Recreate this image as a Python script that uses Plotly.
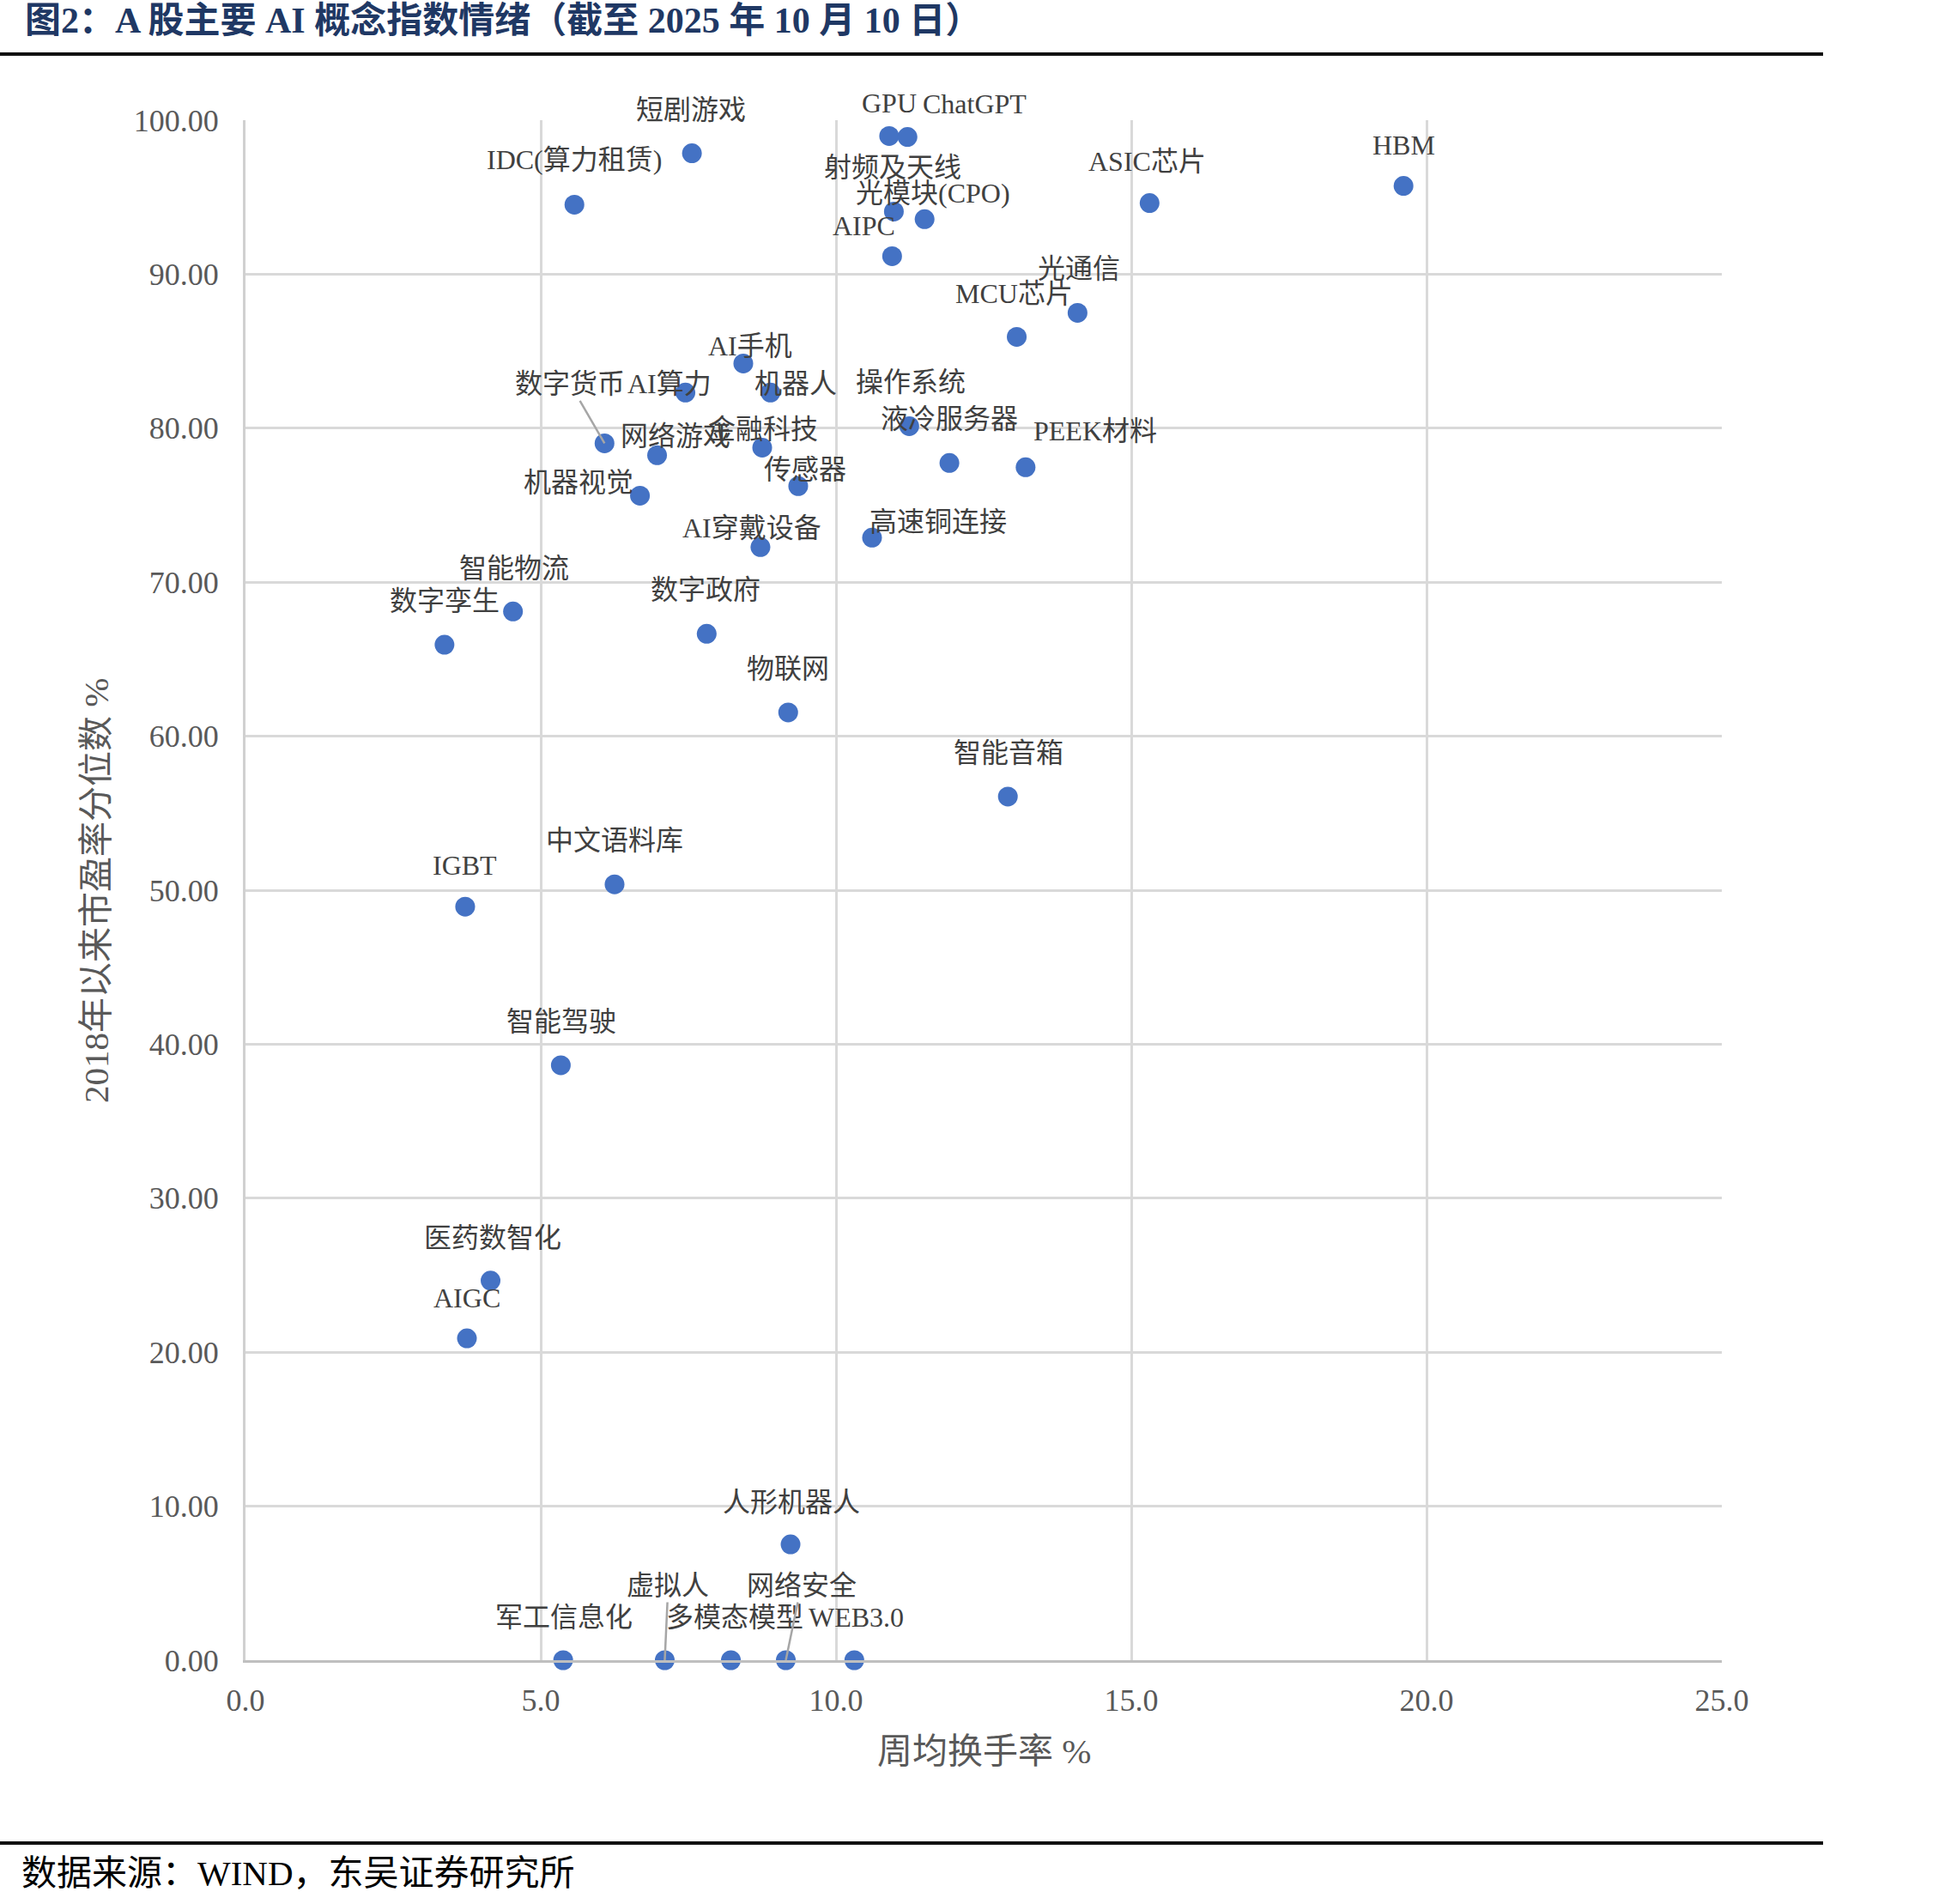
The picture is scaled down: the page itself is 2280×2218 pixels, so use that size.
import plotly.graph_objects as go

# ---------------- data ----------------
names = ["短剧游戏", "IDC(算力租赁)", "GPU", "ChatGPT", "射频及天线", "光模块(CPO)", "AIPC",
         "ASIC芯片", "HBM", "光通信", "MCU芯片", "AI手机", "AI算力", "数字货币", "机器人",
         "操作系统", "液冷服务器", "PEEK材料", "网络游戏", "金融科技", "传感器", "机器视觉",
         "AI穿戴设备", "高速铜连接", "智能物流", "数字孪生", "数字政府", "物联网", "智能音箱",
         "IGBT", "中文语料库", "智能驾驶", "医药数智化", "AIGC", "人形机器人", "军工信息化",
         "虚拟人", "多模态模型", "网络安全", "WEB3.0"]
turnover = [7.56, 5.57, 10.90, 11.21, 10.98, 11.50, 10.95,
            15.31, 19.61, 14.09, 13.06, 8.43, 7.45, 6.08, 8.89,
            11.24, 11.92, 13.21, 6.97, 8.75, 9.36, 6.68,
            8.72, 10.61, 4.53, 3.37, 7.81, 9.19, 12.91,
            3.72, 6.25, 5.34, 4.15, 3.75, 9.23, 5.38,
            7.10, 8.22, 9.15, 10.31]
pe_pct = [97.85, 94.51, 98.97, 98.91, 94.07, 93.57, 91.17,
          94.62, 95.73, 87.49, 85.93, 84.20, 82.31, 79.02, 82.31,
          80.13, 77.74, 77.46, 78.24, 78.74, 76.24, 75.62,
          72.28, 72.89, 68.10, 65.94, 66.65, 61.54, 56.08,
          48.93, 50.38, 38.63, 24.65, 20.90, 7.52, 0.0,
          0.0, 0.0, 0.0, 0.0]
x_ticks = [0, 5, 10, 15, 20, 25]
y_ticks = [0, 10, 20, 30, 40, 50, 60, 70, 80, 90, 100]

# label offsets (screen px, dy negative = up) and leader-line flags
label_dx = [-1, 0, 0, 78, -1, 10, -33,
            -3, 0, 2, -3, 8, -19, -40, 29,
            2, 0, 81, 21, 1, 8, -72,
            -10, 77, 1, 0, -1, 0, 1,
            0, 0, 1, 2, 0, 1, 1,
            4, 4, 18, 2]
label_dy = [-51, -52, -38, -39, -51, -30, -35,
            -49, -48, -51, -50, -20, -10, -69, -10,
            -51, -51, -42, -22, -21, -19, -15,
            -22, -18, -50, -51, -51, -51, -51,
            -48, -51, -51, -50, -47, -49, -50,
            -87, -50, -87, -50]
leader = {"数字货币", "虚拟人", "网络安全"}

LABEL_FONT = "Liberation Serif, 'Noto Sans CJK SC', serif"
BLUE = "#4472C4"

fig = go.Figure()
fig.add_trace(go.Scatter(
    x=turnover, y=pe_pct, mode="markers",
    marker=dict(size=23, color=BLUE, line=dict(width=0)),
    cliponaxis=False, hoverinfo="skip", showlegend=False))

annotations = []
for n, xv, yv, dx, dy in zip(names, turnover, pe_pct, label_dx, label_dy):
    if n in leader:
        annotations.append(dict(
            x=xv, y=yv, xref="x", yref="y", text=n, showarrow=True,
            ax=dx, ay=dy, axref="pixel", ayref="pixel",
            arrowhead=0, arrowwidth=2.5, arrowcolor="#A6A6A6", standoff=0,
            font=dict(family=LABEL_FONT, size=32, color="#404040")))
    else:
        annotations.append(dict(
            x=xv, y=yv, xref="x", yref="y", text=n, showarrow=False,
            xshift=dx, yshift=-dy, xanchor="center", yanchor="middle",
            font=dict(family=LABEL_FONT, size=32, color="#404040")))

# titles / source
annotations.append(dict(
    x=-0.1506, y=1.0647, xref="paper", yref="paper", xanchor="left", yanchor="middle",
    text="<b>图2：A 股主要 AI 概念指数情绪（截至 2025 年 10 月 10 日）</b>", showarrow=False,
    font=dict(family=LABEL_FONT, size=42, color="#1F3864")))
annotations.append(dict(
    x=-0.1529, y=-0.1382, xref="paper", yref="paper", xanchor="left", yanchor="middle",
    text="数据来源：WIND，东吴证券研究所", showarrow=False,
    font=dict(family=LABEL_FONT, size=41, color="#000000")))
annotations.append(dict(
    x=0.5, y=-0.0591, xref="paper", yref="paper", xanchor="center", yanchor="middle",
    text="周均换手率 %", showarrow=False,
    font=dict(family=LABEL_FONT, size=41, color="#595959")))
annotations.append(dict(
    x=-0.1012, y=0.5, xref="paper", yref="paper", xanchor="center", yanchor="middle",
    text="2018年以来市盈率分位数 %", showarrow=False, textangle=-90,
    font=dict(family=LABEL_FONT, size=41, color="#595959")))

shapes = [
    dict(type="line", xref="paper", yref="paper", x0=-0.1663, x1=1.0686, y0=1.0429, y1=1.0429,
         line=dict(color="#111111", width=4)),
    dict(type="line", xref="paper", yref="paper", x0=-0.1663, x1=1.0686, y0=-0.1187, y1=-0.1187,
         line=dict(color="#111111", width=4)),
]

fig.update_layout(
    width=2280, height=2218,
    margin=dict(l=286, r=274, t=140, b=284),
    paper_bgcolor="white", plot_bgcolor="white",
    annotations=annotations, shapes=shapes,
    xaxis=dict(range=[0, 25], tickvals=x_ticks, tickformat=".1f",
               showgrid=True, gridcolor="#D9D9D9", gridwidth=3,
               zeroline=False, showline=True, linecolor="#BFBFBF", linewidth=3,
               ticks="outside", ticklen=13, tickcolor="rgba(0,0,0,0)",
               tickfont=dict(family=LABEL_FONT, size=36, color="#595959")),
    yaxis=dict(range=[0, 100], tickvals=y_ticks, tickformat=".2f",
               showgrid=True, gridcolor="#D9D9D9", gridwidth=3,
               zeroline=False, showline=True, linecolor="#D0D0D0", linewidth=3,
               ticks="outside", ticklen=21, tickcolor="rgba(0,0,0,0)",
               tickfont=dict(family=LABEL_FONT, size=36, color="#595959")),
)

fig.write_html("out.html")
